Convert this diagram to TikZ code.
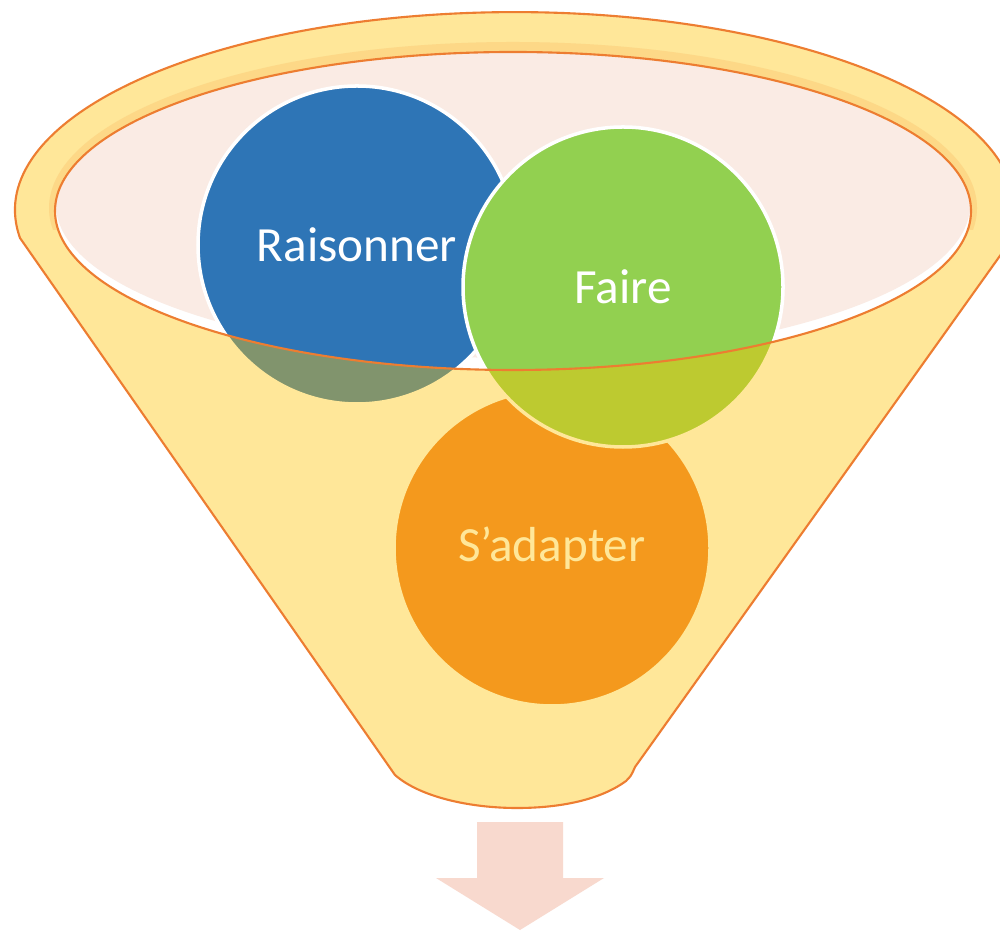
\documentclass[tikz,border=0pt]{standalone}
\usepackage{fontspec}
\setmainfont{Carlito}
\usepackage{xcolor}

\definecolor{funnelgold}{RGB}{255,195,0}
\definecolor{rimorange}{RGB}{237,125,49}
\definecolor{bandtone}{RGB}{252,230,225}
\definecolor{mouthpink}{RGB}{250,235,228}
\definecolor{reasonblue}{RGB}{46,117,182}
\definecolor{doinggreen}{RGB}{146,208,80}
\definecolor{adaptorange}{RGB}{237,125,49}
\definecolor{arrowpink}{RGB}{248,217,206}

\begin{document}
\begin{tikzpicture}[
  ball/.style={circle, draw=white, line width=1pt, minimum size=#1,
    inner sep=0pt, text=white, font=\fontsize{14}{16}\selectfont}
]
  % Page and white ground
  \useasboundingbox (0,0) rectangle (10,9.3);
  \fill[white] (0,0) rectangle (10,9.3);

  % Darker band just under the rim
  \begin{scope}
    \clip (0,7.0) rectangle (10,9.3);
    \fill[bandtone] (5.13,7.22) ellipse [x radius=4.64, y radius=1.66];
  \end{scope}

  % Opening of the funnel
  \fill[white] (5.13,7.19) ellipse [x radius=4.58, y radius=1.59];
  \fill[mouthpink] (5.13,7.25) ellipse [x radius=4.57, y radius=1.53];

  % The three circles
  \node[ball=3.18cm, fill=reasonblue] (raisonner) at (3.57,6.85) {Raisonner};
  \node[ball=3.16cm, fill=adaptorange] (adapter) at (5.52,3.82) {S’adapter};
  \node[ball=3.20cm, fill=doinggreen] (faire) at (6.23,6.43) {Faire};

  % Funnel body, tinted over the circles
  \path[fill=funnelgold, fill opacity=0.4, draw=rimorange, line width=0.6pt, even odd rule]
    (0.20,6.92) arc[start angle=188.1, end angle=-10.8, x radius=5, y radius=1.98]
    -- (6.35,1.63) .. controls (6.31,1.54) .. (6.26,1.49)
    .. controls (6.0,1.30) and (5.6,1.22) .. (5.17,1.22)
    .. controls (4.7,1.22) and (4.2,1.33) .. (3.95,1.55)
    .. controls (3.92,1.60) .. (3.88,1.65)
    -- cycle
    (5.13,7.19) ellipse [x radius=4.58, y radius=1.59];

  % Arrow out of the funnel
  \fill[arrowpink] (4.77,1.08) -- (5.63,1.08) -- (5.63,0.52) -- (6.04,0.52)
    -- (5.20,0) -- (4.36,0.52) -- (4.77,0.52) -- cycle;
\end{tikzpicture}
\end{document}
